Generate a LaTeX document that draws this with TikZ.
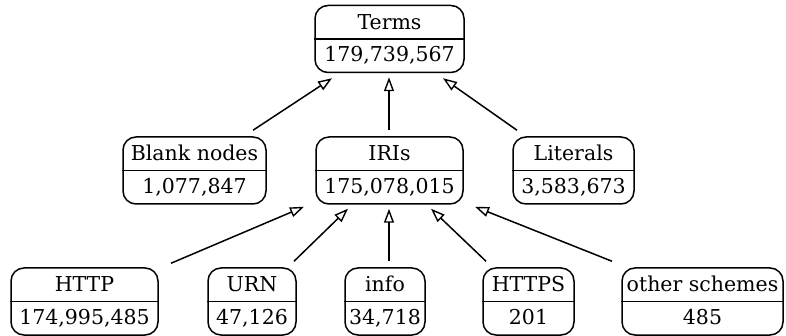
\documentclass[tikz,border=0pt]{standalone}
\usepackage{fontspec}
\setmainfont{DejaVu Serif}
\usetikzlibrary{arrows.meta,calc}
\tikzset{
  rec/.style={draw, rounded corners=13pt, line width=1.5pt, inner sep=0pt, minimum height=67pt},
  divider/.style={line width=1.5pt},
  lbl/.style={inner sep=0pt, text height=15pt, text depth=0pt, font=\fontsize{20.5}{24}\selectfont},
  edge/.style={line width=1.5pt, -{Triangle[open, length=14pt, width=10pt, line width=1.4pt]}}
}
\newcommand\recnode[6]{%
  \node[rec, minimum width=#4pt] (#1) at (#2,#3) {};
  \draw[divider] (#1.west) -- (#1.east);
  \node[lbl] (#1-top) at ($(#1.center)!0.5!(#1.north)$) {#5};
  \node[lbl] (#1-bot) at ([yshift=2pt]$(#1.center)!0.5!(#1.south)$) {#6};
}
\begin{document}
\begin{tikzpicture}[x=1pt, y=-1pt]
\useasboundingbox (0,0) rectangle (786,336);
\recnode{terms}{389.5}{39}{149}{Terms}{179,739,567}
\recnode{blank}{194.5}{170.5}{143}{Blank nodes}{1,077,847}
\recnode{iris}{389.5}{170.5}{147}{IRIs}{175,078,015}
\recnode{literals}{573.5}{170.5}{121}{Literals}{3,583,673}
\recnode{http}{84.5}{301.5}{147}{HTTP}{174,995,485}
\recnode{urn}{252}{301.5}{88}{URN}{47,126}
\recnode{info}{385}{301.5}{80}{info}{34,718}
\recnode{https}{528.5}{301.5}{91}{HTTPS}{201}
\recnode{other}{702.5}{301.5}{161}{other schemes}{485}
\draw[edge] ([shift={(58.5,-6)}]blank.north) -- ([shift={(-57.5,5)}]terms.south);
\draw[edge] ([shift={(-0.5,-6)}]iris.north) -- ([shift={(-0.5,4)}]terms.south);
\draw[edge] ([shift={(-56.5,-6)}]literals.north) -- ([shift={(53.5,5)}]terms.south);
\draw[edge] ([shift={(86.5,-4)}]http.north) -- ([shift={(-85.5,2)}]iris.south);
\draw[edge] ([shift={(42,-6)}]urn.north) -- ([shift={(-41.5,4)}]iris.south);
\draw[edge] ([shift={(4,-6)}]info.north) -- ([shift={(-0.5,4)}]iris.south);
\draw[edge] ([shift={(-42.5,-6)}]https.north) -- ([shift={(41.5,4)}]iris.south);
\draw[edge] ([shift={(-90.5,-6)}]other.north) -- ([shift={(85.5,2)}]iris.south);
\end{tikzpicture}
\end{document}
